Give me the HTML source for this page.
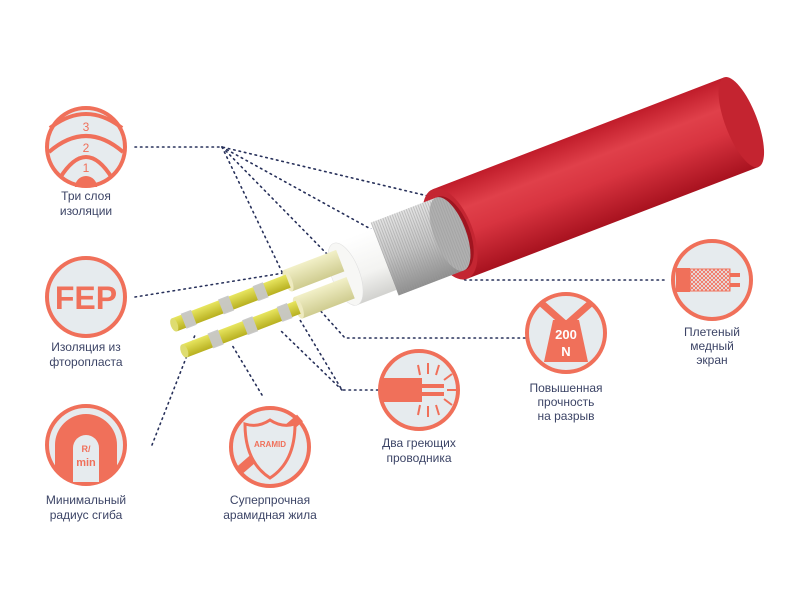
<!DOCTYPE html>
<html><head><meta charset="utf-8"><style>
html,body{margin:0;padding:0;background:#fff;}
svg{display:block}
text{font-family:"Liberation Sans","DejaVu Sans",sans-serif;font-size:12px;fill:#3c4466;text-anchor:middle}
</style></head><body>
<svg width="800" height="597" viewBox="0 0 800 597" xmlns="http://www.w3.org/2000/svg">
<defs>
<linearGradient id="red" x1="0" y1="0" x2="0" y2="1">
<stop offset="0" stop-color="#c01c2a"/><stop offset="0.3" stop-color="#e0404a"/><stop offset="0.55" stop-color="#d83440"/><stop offset="1" stop-color="#a8121f"/></linearGradient>
<linearGradient id="gray" x1="0" y1="0" x2="0" y2="1">
<stop offset="0" stop-color="#e4e4e4"/><stop offset="0.5" stop-color="#c4c4c4"/><stop offset="1" stop-color="#8e8e8e"/></linearGradient>
<linearGradient id="wh" x1="0" y1="0" x2="0" y2="1">
<stop offset="0" stop-color="#ffffff"/><stop offset="0.6" stop-color="#f3f3f1"/><stop offset="1" stop-color="#d2d2cf"/></linearGradient>
<linearGradient id="sl" x1="0" y1="0" x2="0" y2="1">
<stop offset="0" stop-color="#f2f0c8"/><stop offset="1" stop-color="#cfcc90"/></linearGradient>
<linearGradient id="ye" x1="0" y1="0" x2="0" y2="1">
<stop offset="0" stop-color="#e8e660"/><stop offset="1" stop-color="#b8b020"/></linearGradient>
<pattern id="braid" width="4" height="4" patternUnits="userSpaceOnUse"><path d="M0 0L4 4M4 0L0 4" stroke="#f26a55" stroke-width="0.8"/></pattern>
<pattern id="wire" width="2.5" height="10" patternUnits="userSpaceOnUse"><rect width="1" height="10" fill="#9a9a9a" opacity="0.5"/></pattern>
</defs>

<!-- dotted connectors -->
<g fill="none" stroke="#27305a" stroke-width="1.6" stroke-dasharray="1.5 4" stroke-linecap="round">
<path d="M135 147 L222 147 L428 196"/>
<path d="M222 147 L378 233"/>
<path d="M222 147 L328 255"/>
<path d="M222 147 L282 272"/>
<path d="M135 297 L290 272"/>
<path d="M152 445 L195 335"/>
<path d="M262 395 L232 345"/>
<path d="M378 390 L342 390 L300 320"/>
<path d="M342 390 L280 330"/>
<path d="M525 338 L345 338 L318 308"/>
<path d="M664 280 L465 280 L445 260"/>
</g>

<!-- cable -->
<g transform="translate(450 234) rotate(-21)">
<rect x="0" y="-48" width="312" height="96" fill="url(#red)"/>
<ellipse cx="312" cy="0" rx="16" ry="48" fill="#c42430"/>
<ellipse cx="0" cy="0" rx="23" ry="48" fill="#c42632"/>
<ellipse cx="2" cy="0" rx="18" ry="39" fill="#a01520"/>
<rect x="-70" y="-39" width="70" height="78" fill="url(#gray)"/>
<rect x="-70" y="-39" width="70" height="78" fill="url(#wire)"/>
<ellipse cx="0" cy="0" rx="16" ry="39" fill="#b0b0b0"/>
<ellipse cx="0" cy="0" rx="16" ry="39" fill="url(#wire)"/>
<rect x="-112" y="-33" width="42" height="66" fill="url(#wh)"/>
<ellipse cx="-112" cy="0" rx="14" ry="33" fill="#f7f7f5" stroke="#ddd" stroke-width="0.5"/>
<rect x="-168" y="-26" width="56" height="23" fill="url(#sl)"/>
<ellipse cx="-168" cy="-14.5" rx="4" ry="11.5" fill="#eeeac0"/>
<rect x="-168" y="3" width="56" height="23" fill="url(#sl)"/>
<ellipse cx="-168" cy="14.5" rx="4" ry="11.5" fill="#eeeac0"/>
<rect x="-290" y="-21" width="122" height="14" fill="url(#ye)"/>
<ellipse cx="-290" cy="-14" rx="3.5" ry="7" fill="#dedc70"/>
<rect x="-290" y="7" width="122" height="14" fill="url(#ye)"/>
<ellipse cx="-290" cy="14" rx="3.5" ry="7" fill="#dedc70"/>
<g fill="#c8c8c8" opacity="0.95">
<rect x="-280" y="-22" width="11" height="16"/><rect x="-240" y="-22" width="11" height="16"/><rect x="-203" y="-22" width="11" height="16"/>
<rect x="-262" y="6" width="11" height="16"/><rect x="-225" y="6" width="11" height="16"/><rect x="-188" y="6" width="11" height="16"/>
</g>
</g>

<!-- icons -->
<g stroke="#f0705a" stroke-width="4" fill="#e6ebee">
<circle cx="86" cy="147" r="39"/>
<circle cx="86" cy="297" r="39"/>
<circle cx="86" cy="445" r="39"/>
<circle cx="270" cy="447" r="39"/>
<circle cx="419" cy="390" r="39"/>
<circle cx="566" cy="333" r="39"/>
<circle cx="712" cy="280" r="39"/>
</g>
<!-- icon1 layers -->
<g fill="none" stroke="#f0705a" stroke-width="4">
<path d="M50 128 Q86 100 122 128"/>
<path d="M49 152 Q86 120 123 152"/>
<path d="M60 178 Q86 136 112 178"/>
</g>
<path d="M75 187 A11 11 0 0 1 97 187 Z" fill="#f0705a"/>
<text x="86" y="131" style="fill:#f0705a;font-size:12px">3</text>
<text x="86" y="152" style="fill:#f0705a;font-size:12px">2</text>
<text x="86" y="172" style="fill:#f0705a;font-size:12px">1</text>
<text x="86" y="309" style="fill:#f0705a;font-size:32px;font-weight:bold">FEP</text>
<!-- icon3 -->
<path d="M55 470 L55 445 A31 31 0 0 1 117 445 L117 470 A39 39 0 0 1 55 470Z" fill="#f0705a"/>
<path d="M73 482 L73 448 A13 13 0 0 1 99 448 L99 482Z" fill="#e6ebee"/>
<text x="86" y="452" style="fill:#f0705a;font-size:9px;font-weight:bold">R/</text>
<text x="86" y="466" style="fill:#f0705a;font-size:11px;font-weight:bold">min</text>
<!-- aramid -->
<path d="M240 470 L300 418" stroke="#f0705a" stroke-width="9"/>
<path d="M270 420 Q282 428 295 424 Q295 462 270 478 Q245 462 245 424 Q258 428 270 420Z" fill="#e6ebee" stroke="#f0705a" stroke-width="3"/>
<text x="270" y="447" style="fill:#f0705a;font-size:8px;font-weight:bold">ARAMID</text>
<!-- two conductors -->
<rect x="382" y="378" width="40" height="24" fill="#f0705a"/>
<rect x="422" y="384" width="22" height="4" fill="#f0705a"/><rect x="422" y="392" width="22" height="4" fill="#f0705a"/>
<g stroke="#f0705a" stroke-width="2"><path d="M420 375L418 365M428 374L428 363M436 375L439 365M444 380L452 374M447 390L456 390M444 399L452 405M420 405L418 415M428 406L428 417M436 405L439 415"/></g>
<!-- 200N -->
<path d="M540 302 L566 325 L592 302" stroke="#f0705a" stroke-width="7" fill="none"/>
<path d="M553 320 L579 320 L588 362 L544 362Z" fill="#f0705a"/>
<text x="566" y="339" style="fill:#fff;font-size:13px;font-weight:bold">200</text>
<text x="566" y="356" style="fill:#fff;font-size:13px;font-weight:bold">N</text>
<!-- braid -->
<path d="M676 268 L690 268 L690 292 L676 292Z" fill="#f0705a"/>
<rect x="690" y="269" width="40" height="22" fill="url(#braid)" stroke="#f0705a" stroke-width="1"/>
<rect x="730" y="273" width="10" height="4" fill="#f0705a"/><rect x="730" y="283" width="10" height="4" fill="#f0705a"/>

<!-- labels -->
<text x="86" y="200">Три слоя</text><text x="86" y="215">изоляции</text>
<text x="86" y="351">Изоляция из</text><text x="86" y="366">фторопласта</text>
<text x="86" y="504">Минимальный</text><text x="86" y="519">радиус сгиба</text>
<text x="270" y="504">Суперпрочная</text><text x="270" y="519">арамидная жила</text>
<text x="419" y="447">Два греющих</text><text x="419" y="462">проводника</text>
<text x="566" y="392">Повышенная</text><text x="566" y="406">прочность</text><text x="566" y="420">на разрыв</text>
<text x="712" y="336">Плетеный</text><text x="712" y="350">медный</text><text x="712" y="364">экран</text>
</svg>
</body></html>
